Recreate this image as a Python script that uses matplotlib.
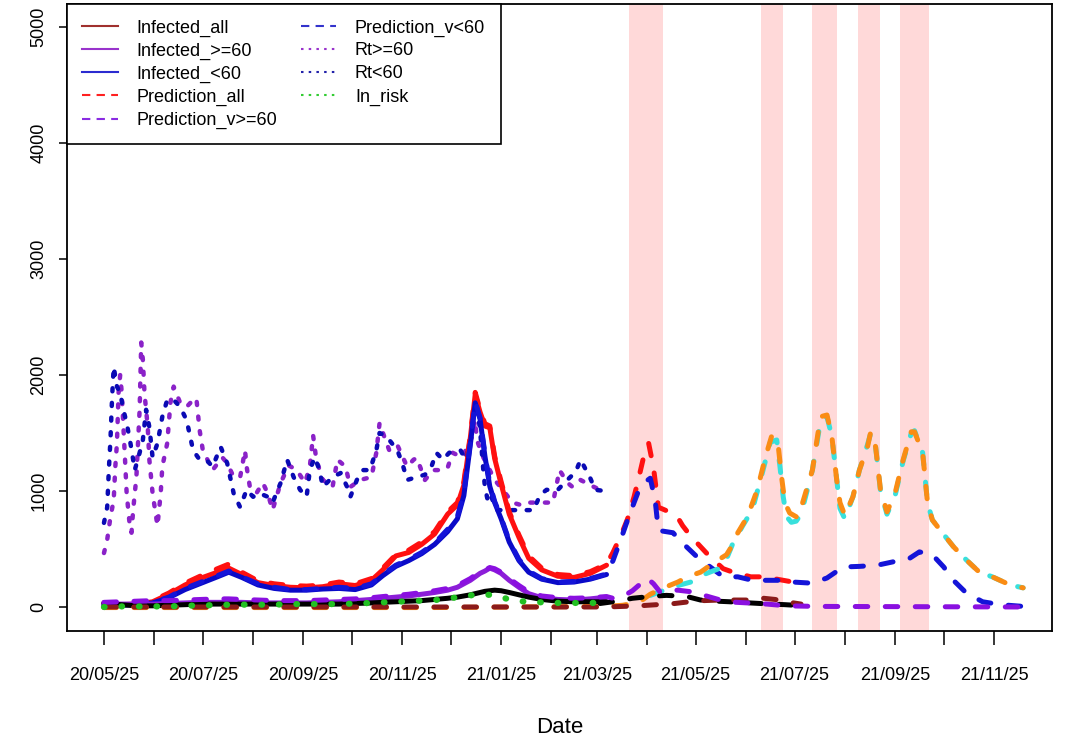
import matplotlib
matplotlib.use("Agg")
import matplotlib.pyplot as plt
from matplotlib.lines import Line2D
import pandas as pd

plt.rcParams['font.family'] = ['Liberation Sans', 'DejaVu Sans']

start = pd.Timestamp("2020-05-25")

# observed period (days since start)
obs_days = [0, 10, 20, 30, 40, 50, 60, 70, 77, 85, 95, 105, 115, 125, 135, 145, 155, 165, 172, 180,
            188, 196, 204, 212, 218, 222, 226, 229, 232, 235, 238, 241, 245, 250, 256, 262, 270, 280,
            290, 300, 310]
infected_all = [25, 20, 25, 45, 110, 190, 250, 300, 335, 280, 210, 185, 170, 165, 175, 200, 185, 230, 320, 440,
                470, 540, 630, 800, 880, 1050, 1460, 1830, 1680, 1560, 1545, 1280, 1060, 800, 600, 420, 320, 265,
                255, 290, 360]
infected_lt60 = [15, 15, 20, 35, 80, 150, 205, 260, 300, 255, 190, 160, 145, 145, 155, 160, 150, 190, 270, 350,
                 400, 460, 540, 650, 760, 960, 1400, 1760, 1620, 1300, 1040, 900, 760, 560, 400, 300, 240, 210,
                 215, 240, 280]
infected_ge60 = [30, 25, 25, 25, 30, 35, 40, 40, 40, 40, 35, 35, 35, 35, 40, 45, 55, 65, 75, 85,
                 95, 110, 125, 145, 170, 200, 230, 260, 290, 310, 335, 320, 290, 230, 170, 115, 80, 65,
                 60, 70, 85]
infected_base = [35, 20, 10, 10, 15, 20, 25, 25, 25, 25, 25, 25, 25, 25, 25, 25, 30, 35, 40, 45,
                 50, 55, 65, 75, 85, 95, 105, 115, 125, 135, 140, 145, 140, 125, 105, 85, 65, 50,
                 45, 45, 45]
in_risk = [0, 5, 5, 5, 5, 10, 15, 15, 20, 20, 20, 20, 25, 25, 25, 25, 30, 35, 40, 45,
           50, 55, 60, 70, 85, 95, 100, 105, 105, 105, 105, 100, 85, 65, 50, 45, 40, 35,
           35, 35, 35]

# Rt (x1000)
rt_ge60_days = [0, 2, 4, 6, 7, 8, 9, 10, 11, 12, 13, 14, 16, 17, 18, 20, 21, 22, 23, 24, 25, 27, 28, 30, 33,
                35, 36, 39, 41, 43, 47, 51, 55, 57, 59, 61, 67, 73, 76, 80, 84, 87, 88, 90, 94, 98, 101,
                104, 109, 114, 119, 124, 127, 129, 131, 135, 141, 144, 149, 152, 158, 165, 168, 170, 173,
                176, 181, 187, 191, 193, 198, 203, 209, 212, 215, 221, 227, 229, 230, 234, 238, 241, 246,
                252, 257, 260, 271, 277, 281, 286, 289, 294, 300, 306, 310]
rt_ge60 = [465, 580, 775, 920, 1210, 1410, 1845, 2000, 1845, 1550, 1270, 980, 690, 640, 835, 1120, 1410, 1700,
           2280, 2130, 1845, 1550, 1270, 980, 700, 980, 1210, 1410, 1760, 1900, 1760, 1725, 1785, 1800, 1525,
           1350, 1180, 1290, 1240, 1120, 1120, 1350, 1210, 1035, 980, 1070, 980, 835, 1070, 1220, 1180, 1070,
           1210, 1480, 1270, 1095, 1035, 1270, 1210, 1035, 1095, 1120, 1330, 1585, 1465, 1350, 1395, 1210,
           1270, 1285, 1095, 1180, 1180, 1200, 1330, 1290, 1465, 1610, 1440, 1290, 1180, 1095, 1010, 900,
           880, 900, 900, 900, 1180, 1070, 1035, 1095, 1050, 1010, 1000]
rt_lt60_days = [0, 2, 3, 4, 5, 6, 8, 10, 12, 14, 16, 18, 19, 22, 24, 26, 28, 30, 33, 36, 39, 43, 47, 51, 55,
                59, 63, 67, 72, 76, 80, 84, 88, 92, 96, 101, 104, 109, 113, 117, 121, 125, 127, 130, 133,
                135, 141, 146, 150, 152, 156, 160, 164, 168, 170, 173, 176, 181, 184, 187, 193, 198, 202,
                205, 209, 213, 220, 223, 226, 228, 229, 231, 232, 234, 235, 237, 239, 242, 253, 260, 265,
                269, 273, 280, 284, 291, 294, 300, 303, 309]
rt_lt60 = [725, 860, 1180, 1440, 1800, 2070, 1900, 1845, 1700, 1585, 1440, 1270, 1180, 1330, 1440, 1700, 1550,
           1290, 1410, 1640, 1785, 1785, 1725, 1610, 1350, 1270, 1270, 1210, 1380, 1240, 980, 860, 1010, 950,
           980, 950, 900, 1070, 1270, 1120, 1010, 950, 1180, 1290, 1180, 1035, 1120, 1155, 1035, 950, 1095,
           1180, 1180, 1350, 1500, 1480, 1440, 1350, 1240, 1095, 1120, 1140, 1210, 1330, 1270, 1330, 1350,
           1270, 1440, 1610, 1760, 1640, 1525, 1180, 1035, 900, 950, 835, 835, 835, 835, 965, 1010, 1010,
           1070, 1165, 1270, 1110, 1010, 1000]

# model fits and forecasts
pred_all_days = obs_days + [314, 319, 323, 327, 330, 333, 336, 339, 342, 347, 354, 357, 362, 368, 374, 382,
                            388, 399, 407, 417, 425]
pred_all = [35, 25, 30, 55, 120, 205, 270, 330, 370, 300, 225, 200, 185, 180, 190, 215, 200, 245, 335, 450,
            490, 560, 650, 820, 900, 1080, 1480, 1850, 1700, 1580, 1560, 1300, 1080, 820, 620, 440, 335, 280,
            270, 305, 370,
            470, 620, 760, 950, 1120, 1300, 1410, 1200, 860, 830, 770, 700, 610, 520, 430, 330,
            300, 260, 260, 235, 215]
pred_lt60_days = obs_days + [314, 319, 323, 327, 330, 333, 337, 340, 342, 351, 357, 366, 374, 382, 391, 400,
                             417, 425, 437, 446, 456, 466, 477, 487, 497, 503, 511, 518, 524, 532, 542, 553, 567]
pred_lt60 = [20, 15, 25, 40, 85, 160, 215, 270, 310, 260, 200, 170, 150, 150, 160, 170, 160, 200, 280, 360,
             410, 470, 550, 670, 780, 980, 1420, 1770, 1630, 1320, 1060, 910, 770, 570, 410, 310, 245, 215,
             220, 245, 285,
             400, 590, 750, 900, 1010, 1070, 1110, 920, 660, 640, 550, 430, 345, 260, 260, 230,
             230, 215, 205, 250, 345, 350, 360, 390, 420, 475, 450, 345, 230, 120, 45, 20, 5]
pred_ge60_days = obs_days + [314, 320, 326, 331, 335, 339, 343, 348, 354, 363, 374, 384, 397, 409, 421, 440, 567]
pred_ge60 = [40, 45, 50, 55, 55, 60, 65, 70, 70, 65, 60, 55, 55, 55, 60, 65, 70, 80, 90, 100,
             110, 125, 140, 160, 185, 215, 245, 275, 300, 320, 340, 330, 300, 245, 185, 130, 95, 80,
             75, 80, 90,
             75, 90, 140, 200, 250, 200, 130, 140, 145, 130, 85, 45, 35, 25, 10, 5, 0]
pred_base_days = [306, 314, 320, 326, 333, 341, 347, 354, 361, 368, 378, 386, 392, 405, 420, 432]
pred_base = [30, 45, 60, 75, 85, 95, 100, 95, 85, 60, 50, 45, 40, 30, 20, 10]
pred_deaths_days = [0, 100, 200, 310, 320, 330, 341, 352, 361, 370, 380, 398, 407, 414, 421, 430]
pred_deaths = [0, 0, 0, 0, 5, 10, 20, 30, 45, 55, 60, 60, 75, 65, 45, 25]
scen_a_days = [0, 100, 200, 310, 320, 330, 337, 343, 347, 354, 360, 368, 376, 384, 388, 391, 397, 403, 408,
               412, 416, 418, 420, 423, 428, 431, 437, 442, 446, 449, 452, 454, 457, 462, 466, 471, 473,
               476, 479, 483, 488, 493, 498, 500, 505, 508, 511, 516, 524, 532, 540, 548, 559, 567]
scen_a = [-5, -5, -5, 5, 15, 40, 110, 150, 175, 215, 260, 300, 380, 450, 540, 640, 780, 1010, 1290,
          1480, 1380, 1120, 900, 810, 770, 900, 1180, 1640, 1655, 1470, 1095, 900, 790, 950, 1180, 1380, 1510,
          1380, 1010, 820, 980, 1270, 1510, 1510, 1330, 900, 750, 660, 520, 405, 300, 260, 190, 165]
scen_b_days = [337, 343, 350, 362, 370, 382, 388, 394, 400, 406, 411, 415, 417, 419, 421, 424, 427, 430, 437,
               442, 446, 449, 452, 454, 457, 462, 466, 471, 473, 476, 479, 483, 488, 493, 498, 500, 505,
               508, 511, 516, 524, 532, 540, 548, 559, 567]
scen_b = [100, 130, 170, 215, 280, 345, 550, 700, 840, 1150, 1420, 1440, 1210, 950, 780, 730, 740, 800, 1180,
          1600, 1640, 1470, 1100, 850, 760, 950, 1180, 1400, 1500, 1380, 1000, 800, 960, 1260, 1500, 1520, 1330,
          900, 750, 660, 520, 405, 300, 260, 190, 165]

# restriction periods
band_starts = ["2021-04-14", "2021-07-04", "2021-08-05", "2021-09-02", "2021-09-28"]
band_ends = ["2021-05-05", "2021-07-18", "2021-08-20", "2021-09-16", "2021-10-16"]


def to_dates(days):
    return start + pd.to_timedelta(days, unit="D")


fig = plt.figure(figsize=(10.71, 7.40), dpi=100)
ax = fig.add_axes([67 / 1071, 1 - 631 / 740, 985 / 1071, 627 / 740])

for b0, b1 in zip(band_starts, band_ends):
    ax.axvspan(pd.Timestamp(b0), pd.Timestamp(b1), color="#FFD9D9", lw=0, zorder=0)

dash = (0, (2.5, 3.5))
dots = (0, (0.7, 2.6))
kw = dict(solid_capstyle="round", dash_capstyle="round")

ax.plot(to_dates(rt_ge60_days), rt_ge60, color="#8A22C8", lw=3.2, ls=dots, **kw)
ax.plot(to_dates(rt_lt60_days), rt_lt60, color="#0A0AB4", lw=3.2, ls=dots, **kw)

ax.plot(to_dates(pred_all_days), pred_all, color="#FF1010", lw=3.6, ls=dash, **kw)
ax.plot(to_dates(obs_days), infected_all, color="#FF1010", lw=3.6, **kw)
ax.plot(to_dates(obs_days), infected_lt60, color="#0A0AC8", lw=3.6, **kw)
ax.plot(to_dates(pred_lt60_days), pred_lt60, color="#1414D8", lw=3.6, ls=dash, **kw)
ax.plot(to_dates(obs_days), infected_ge60, color="#8C1ED8", lw=3.6, **kw)
ax.plot(to_dates(obs_days), infected_base, color="black", lw=3.6, **kw)
ax.plot(to_dates(scen_b_days), scen_b, color="#38E0DC", lw=3.6, ls=dash, **kw)
ax.plot(to_dates(scen_a_days), scen_a, color="#FA8C14", lw=3.6, ls=dash, **kw)
ax.plot(to_dates(pred_base_days), pred_base, color="black", lw=3.6, ls=dash, **kw)
ax.plot(to_dates(pred_deaths_days), pred_deaths, color="#8B1A1A", lw=3.6, ls=dash, **kw)
ax.plot(to_dates(pred_ge60_days), pred_ge60, color="#8A10E0", lw=3.6, ls=dash, **kw)
ax.plot(to_dates(obs_days), in_risk, color="#22C022", lw=4.5, ls=(0, (0.1, 2.7)), **kw)

ax.set_xlim(to_dates(-22.8), to_dates(584.8))
ax.set_ylim(-207, 5198)

ticks = pd.date_range("2020-05-25", "2021-11-25", freq=pd.DateOffset(months=1))
ax.set_xticks(ticks)
ax.set_xticklabels([t.strftime("%y/%m/%d") if i % 2 == 0 else "" for i, t in enumerate(ticks)], fontsize=13)
ax.tick_params(axis="x", length=10, width=1.1, pad=16)
ax.set_yticks(range(0, 5001, 1000))
ax.set_yticklabels([str(v) for v in range(0, 5001, 1000)], rotation=90, va="center", fontsize=13)
ax.tick_params(axis="y", length=6, width=1.1, pad=8)
for s in ax.spines.values():
    s.set_linewidth(1.3)
ax.set_xlabel("Date", fontsize=16, labelpad=24)

handles = [
    Line2D([], [], color="#A0302E", lw=1.5),
    Line2D([], [], color="#9933CC", lw=1.5),
    Line2D([], [], color="#2B2BD0", lw=1.5),
    Line2D([], [], color="#FF2020", lw=1.5, ls=(0, (4, 3))),
    Line2D([], [], color="#8A2BE2", lw=1.5, ls=(0, (4, 3))),
    Line2D([], [], color="#3333CC", lw=1.5, ls=(0, (4, 3))),
    Line2D([], [], color="#9933CC", lw=1.5, ls=(0, (1.2, 2.5))),
    Line2D([], [], color="#2222AA", lw=1.5, ls=(0, (1.2, 2.5))),
    Line2D([], [], color="#33CC33", lw=1.5, ls=(0, (1.2, 2.5))),
]
labels = ["Infected_all", "Infected_>=60", "Infected_<60", "Prediction_all", "Prediction_v>=60",
          "Prediction_v<60", "Rt>=60", "Rt<60", "In_risk"]
leg = ax.legend(handles, labels, loc="upper left", bbox_to_anchor=(0, 1), borderaxespad=0, ncol=2,
                fontsize=13, frameon=True, fancybox=False, handlelength=1.95, handletextpad=1.05,
                columnspacing=1.3, labelspacing=0.33, borderpad=0.85)
leg.get_frame().set_edgecolor("black")
leg.get_frame().set_linewidth(1.2)
leg.get_frame().set_alpha(1)

fig.savefig("out.png", dpi=100)
